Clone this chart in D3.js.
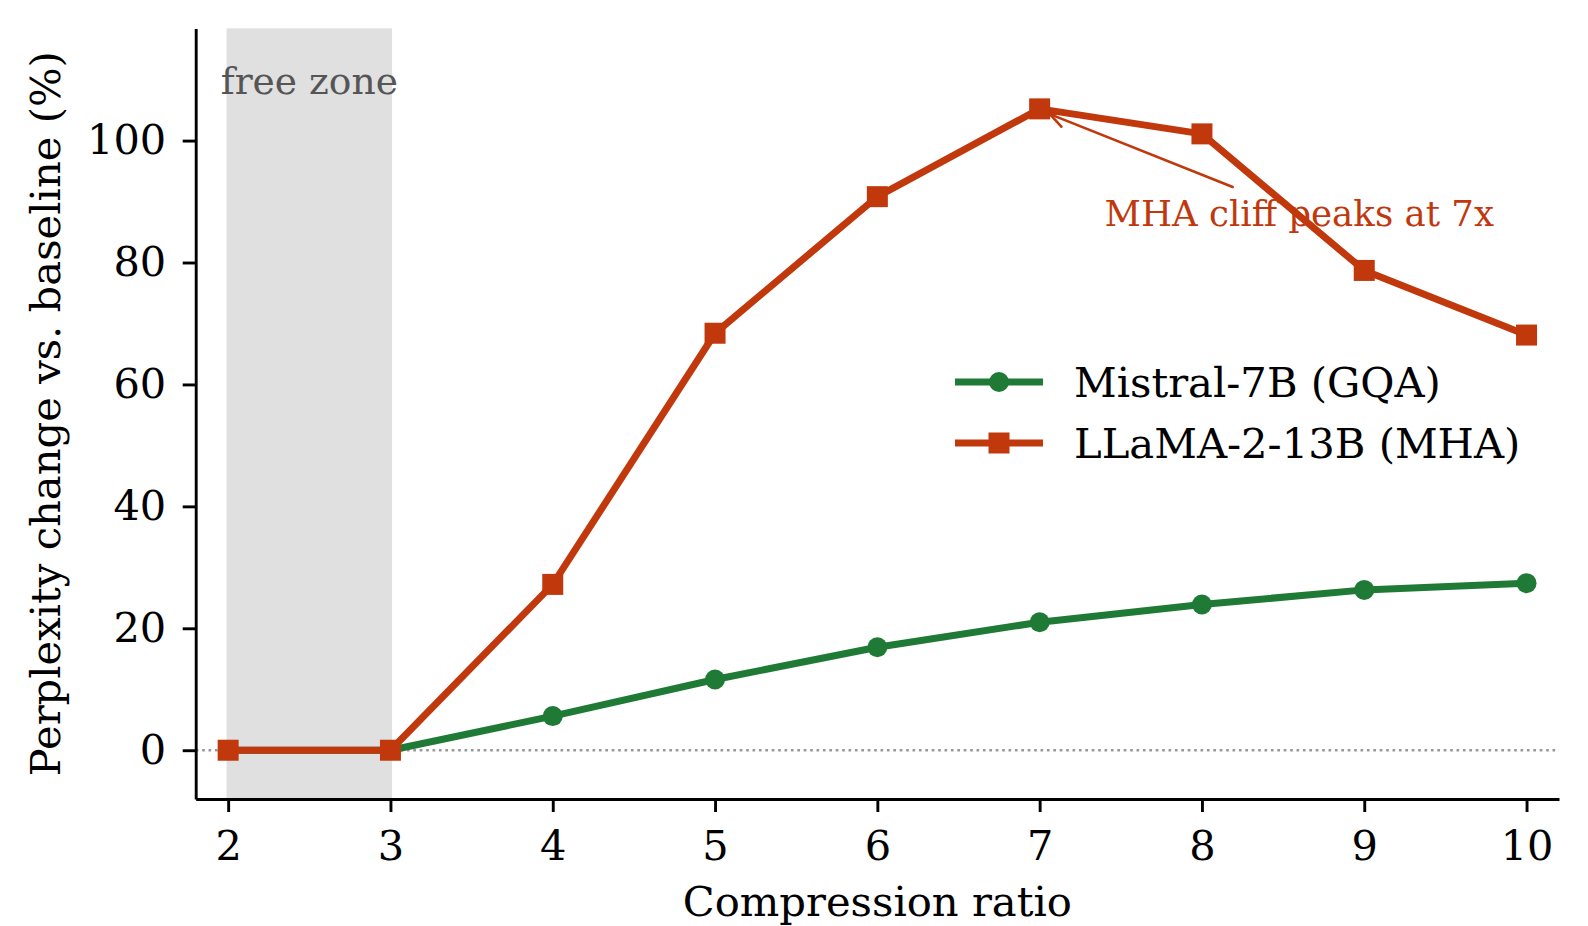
<!DOCTYPE html>
<html>
<head>
<meta charset="utf-8">
<script src="https://cdn.jsdelivr.net/npm/d3@7"></script>
<style>
  body { margin: 0; background: #fff; }
  svg text { font-family: "DejaVu Serif", serif; }
</style>
</head>
<body>
<script>
var width = 1588,
    height = 926;

// data
var ratios = [2, 3, 4, 5, 6, 7, 8, 9, 10];
var mistral = [0, 0, 5.6, 11.6, 16.9, 21.0, 23.9, 26.3, 27.4];
var llama = [0, 0, 27.2, 68.4, 90.8, 105.2, 101.1, 78.7, 68.1];
var seriesNames = ["Mistral-7B (GQA)", "LLaMA-2-13B (MHA)"];
var xTicks = [2, 3, 4, 5, 6, 7, 8, 9, 10];
var yTicks = [0, 20, 40, 60, 80, 100];
var freeZone = [1.99, 3.01];

var green = "#1f7a35",
    red = "#c1380c";

var margin = {left: 195.7, right: 1559, top: 28.4, bottom: 799};

var x = d3.scaleLinear().domain([1.8, 10.2]).range([margin.left, margin.right]);
var y = d3.scaleLinear().domain([-8, 118.4]).range([margin.bottom, margin.top]);

var svg = d3.select("body").append("svg")
    .attr("width", width)
    .attr("height", height);

// shaded free zone
svg.append("rect")
    .attr("x", x(freeZone[0]))
    .attr("y", margin.top)
    .attr("width", x(freeZone[1]) - x(freeZone[0]))
    .attr("height", margin.bottom - margin.top)
    .style("fill", "#e0e0e0");

svg.append("text")
    .attr("x", x((freeZone[0] + freeZone[1]) / 2))
    .attr("y", 94)
    .attr("text-anchor", "middle")
    .style("font-size", "37.6px")
    .style("fill", "#555")
    .text("free zone");

// zero reference line
svg.append("line")
    .attr("x1", margin.left).attr("x2", margin.right)
    .attr("y1", y(0)).attr("y2", y(0))
    .style("stroke", "#999")
    .style("stroke-width", 2.7)
    .style("stroke-dasharray", "2.7,3.7");

// axes
var xAxis = svg.append("g")
    .attr("transform", "translate(0," + margin.bottom + ")")
    .call(d3.axisBottom(x).tickValues(xTicks).tickFormat(d3.format("d"))
        .tickSize(13).tickSizeOuter(0).tickPadding(18.5));

var yAxis = svg.append("g")
    .attr("transform", "translate(" + margin.left + ",0)")
    .call(d3.axisLeft(y).tickValues(yTicks).tickFormat(d3.format("d"))
        .tickSize(13).tickSizeOuter(0).tickPadding(16.5));

[xAxis, yAxis].forEach(function(g) {
    g.select(".domain").style("stroke", "#000").style("stroke-width", 2.9);
    g.selectAll(".tick line").style("stroke", "#000").style("stroke-width", 2.9);
    g.selectAll(".tick text")
        .style("font-family", "DejaVu Serif")
        .style("font-size", "41.5px")
        .style("fill", "#000");
});

svg.append("text")
    .attr("x", x(6))
    .attr("y", 916)
    .attr("text-anchor", "middle")
    .style("font-size", "41.7px")
    .text("Compression ratio");

svg.append("text")
    .attr("transform", "translate(60," + (margin.top + margin.bottom) / 2 + ") rotate(-90)")
    .attr("text-anchor", "middle")
    .style("font-size", "41.7px")
    .text("Perplexity change vs. baseline (%)");

// series
var line = d3.line()
    .x(function(d) { return x(d[0]); })
    .y(function(d) { return y(d[1]); });

var series = [
    {name: seriesNames[0], values: d3.zip(ratios, mistral), color: green, marker: "circle"},
    {name: seriesNames[1], values: d3.zip(ratios, llama), color: red, marker: "square"}
];

function drawMarker(g, type, color) {
    if (type == "circle") {
        g.append("circle").attr("r", 10).style("fill", color);
    } else {
        g.append("rect").attr("x", -10.5).attr("y", -10.5)
            .attr("width", 21).attr("height", 21).style("fill", color);
    }
}

series.forEach(function(s) {
    svg.append("path")
        .datum(s.values)
        .attr("d", line)
        .style("fill", "none")
        .style("stroke", s.color)
        .style("stroke-width", 7)
        .style("stroke-linejoin", "round");

    svg.selectAll(".pt-" + s.marker)
        .data(s.values)
        .enter().append("g")
        .attr("class", "pt-" + s.marker)
        .attr("transform", function(d) { return "translate(" + x(d[0]) + "," + y(d[1]) + ")"; })
        .each(function() { drawMarker(d3.select(this), s.marker, s.color); });
});

// annotation with arrow
var note = svg.append("text")
    .attr("x", x(7.4))
    .attr("y", y(86))
    .style("font-size", "35.6px")
    .style("fill", red)
    .text("MHA cliff peaks at 7x");

var bb = note.node().getBBox();
var cx = bb.x + bb.width / 2,
    cy = bb.y + bb.height / 2,
    tx = x(7), ty = y(105);
var dx = tx - cx, dy = ty - cy;
// clip at top of text box, a few px above
var t0 = (bb.y - 6 - cy) / dy;
var sx = cx + dx * t0, sy = cy + dy * t0;
var len = Math.sqrt(dx * dx + dy * dy);
var ex = tx - dx / len * 11, ey = ty - dy / len * 11;

svg.append("line")
    .attr("x1", sx).attr("y1", sy).attr("x2", ex).attr("y2", ey)
    .style("stroke", red).style("stroke-width", 2.6).style("stroke-linecap", "round");

var ang = Math.atan2(sy - ey, sx - ex);
[-0.45, 0.45].forEach(function(a) {
    svg.append("line")
        .attr("x1", ex).attr("y1", ey)
        .attr("x2", ex + Math.cos(ang + a) * 17).attr("y2", ey + Math.sin(ang + a) * 17)
        .style("stroke", red).style("stroke-width", 2.6).style("stroke-linecap", "round");
});

// legend
var legend = svg.append("g");
series.forEach(function(s, i) {
    var ly = 382 + i * 61;
    legend.append("line")
        .attr("x1", 955).attr("x2", 1043)
        .attr("y1", ly).attr("y2", ly)
        .style("stroke", s.color).style("stroke-width", 7);
    var m = legend.append("g").attr("transform", "translate(999," + ly + ")");
    drawMarker(m, s.marker, s.color);
    legend.append("text")
        .attr("x", 1074)
        .attr("y", ly + 15)
        .style("font-size", "41.7px")
        .text(s.name);
});
</script>
</body>
</html>
